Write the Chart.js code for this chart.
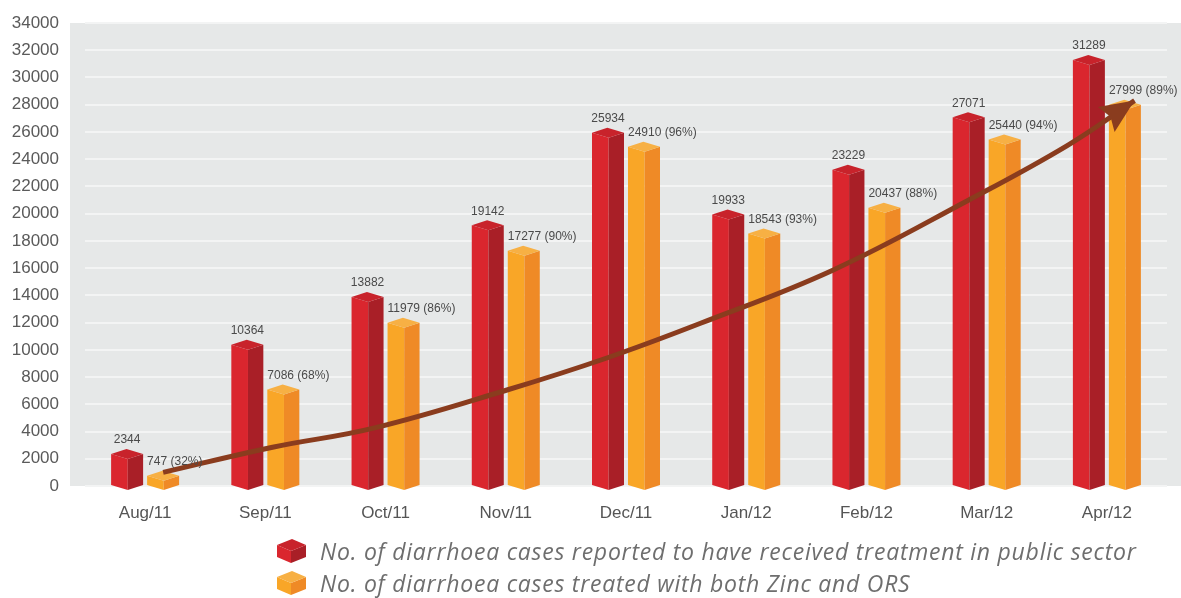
<!DOCTYPE html>
<html>
<head>
<meta charset="utf-8">
<script src="https://cdn.jsdelivr.net/npm/chart.js@4.4.1/dist/chart.umd.min.js"></script>
<style>
  body { margin: 0; background: #fff; }
  #wrap { position: relative; width: 1181px; height: 598px; }
  #legend { position: absolute; left: 277px; top: 535px; font-family: 'Open Sans', sans-serif; font-style: italic; font-size: 23px; letter-spacing: 0.75px; color: #6e6e6e; }
  .row { display: flex; align-items: center; height: 32px; white-space: nowrap; }
  .row svg { margin-right: 14px; }
</style>
</head>
<body>
<div id="wrap">
  <canvas id="c"></canvas>
  <div id="legend"></div>
</div>
<script>
// Diarrhoea cases: treated in public sector vs treated with Zinc + ORS, Aug/11 - Apr/12

const months = ['Aug/11', 'Sep/11', 'Oct/11', 'Nov/11', 'Dec/11', 'Jan/12', 'Feb/12', 'Mar/12', 'Apr/12'];
const reported = [2344, 10364, 13882, 19142, 25934, 19933, 23229, 27071, 31289];
const zincOrs = [747, 7086, 11979, 17277, 24910, 18543, 20437, 25440, 27999];

// hand-drawn trend arrow (x in category index units)
const trendX = [0.15, 1.06, 1.9, 3.01, 3.84, 4.62, 5.72, 6.84, 7.67, 8.23];
const trendY = [1000, 2850, 4250, 7050, 9400, 11950, 15850, 20950, 25000, 28300];

const yMax = 34000;
const yStep = 2000;

const legendLabels = [
    'No. of diarrhoea cases reported to have received treatment in public sector',
    'No. of diarrhoea cases treated with both Zinc and ORS'
];

const redFace = { front: '#da262e', side: '#a91f27', top: '#c8232b' };
const orangeFace = { front: '#f9a627', side: '#ef8a26', top: '#f7b044' };

const plotBg = {
    id: 'plotBg',
    beforeDraw(chart) {
        const { ctx, chartArea } = chart;
        ctx.save();
        ctx.fillStyle = '#e6e8e8';
        ctx.fillRect(70, chartArea.top, chart.width - 70, chartArea.bottom - chartArea.top);
        ctx.restore();
    }
};

// draws each bar as a little box seen from its corner
const bar3d = {
    id: 'bar3d',
    afterDatasetDraw(chart, args) {
        const ds = chart.data.datasets[args.index];
        if (!ds.face) return;
        const ctx = chart.ctx;
        const d = 5, inset = 2;
        ctx.save();
        args.meta.data.forEach(b => {
            const w = b.width - inset * 2, x0 = b.x - w / 2, x1 = b.x + w / 2, xm = x0 + w * 0.52;
            const top = b.y, base = b.base;
            ctx.fillStyle = ds.face.front;
            ctx.beginPath();
            ctx.moveTo(x0, top); ctx.lineTo(xm, top + d); ctx.lineTo(xm, base + d); ctx.lineTo(x0, base);
            ctx.closePath(); ctx.fill();
            ctx.fillStyle = ds.face.side;
            ctx.beginPath();
            ctx.moveTo(xm, top + d); ctx.lineTo(x1, top); ctx.lineTo(x1, base); ctx.lineTo(xm, base + d);
            ctx.closePath(); ctx.fill();
            ctx.fillStyle = ds.face.top;
            ctx.beginPath();
            ctx.moveTo(x0, top); ctx.lineTo(x0 + (x1 - xm), top - d); ctx.lineTo(x1, top); ctx.lineTo(xm, top + d);
            ctx.closePath(); ctx.fill();
        });
        ctx.restore();
    }
};

const arrowHead = {
    id: 'arrowHead',
    afterDatasetDraw(chart, args) {
        const ds = chart.data.datasets[args.index];
        if (ds.type !== 'line') return;
        const pts = args.meta.data;
        const p = pts[pts.length - 1], q = pts[pts.length - 2];
        const ctx = chart.ctx;
        const ang = Math.atan2(p.y - q.y, p.x - q.x);
        const len = 34, half = 15;
        ctx.save();
        ctx.translate(p.x, p.y);
        ctx.rotate(ang);
        ctx.fillStyle = ds.borderColor;
        ctx.beginPath();
        ctx.moveTo(0, 0); ctx.lineTo(-len, -half); ctx.lineTo(-len * 0.85, 0); ctx.lineTo(-len, half);
        ctx.closePath(); ctx.fill();
        ctx.restore();
    }
};

const valueLabels = {
    id: 'valueLabels',
    afterDatasetsDraw(chart) {
        const ctx = chart.ctx;
        ctx.save();
        ctx.font = '12px "Liberation Sans", Arial, sans-serif';
        ctx.fillStyle = '#4a4a4a';
        ctx.textBaseline = 'bottom';
        const red = chart.getDatasetMeta(1).data;
        const org = chart.getDatasetMeta(2).data;
        red.forEach((b, i) => {
            ctx.textAlign = 'center';
            ctx.fillText(String(reported[i]), b.x, b.y - 8);
        });
        org.forEach((b, i) => {
            const pct = Math.round(zincOrs[i] / reported[i] * 100);
            ctx.textAlign = 'left';
            ctx.fillText(zincOrs[i] + ' (' + pct + '%)', b.x - b.width / 2 + 2, b.y - 8);
        });
        ctx.restore();
    }
};

const chart = new Chart(document.getElementById('c'), {
    type: 'bar',
    data: {
        labels: months,
        datasets: [
            { type: 'line', label: 'trend', data: trendX.map((x, i) => ({ x, y: trendY[i] })), xAxisID: 'xt',
              borderColor: '#8a3c1e', borderWidth: 5, pointRadius: 0, tension: 0.4, fill: false, order: 0 },
            { label: legendLabels[0], data: reported, backgroundColor: 'rgba(0,0,0,0)', face: redFace,
              barThickness: 36, order: 1 },
            { label: legendLabels[1], data: zincOrs, backgroundColor: 'rgba(0,0,0,0)', face: orangeFace,
              barThickness: 36, order: 1 }
        ]
    },
    options: {
        responsive: true,
        maintainAspectRatio: false,
        animation: false,
        layout: { padding: { top: 23, right: 14, bottom: 72, left: 0 } },
        plugins: { legend: { display: false }, tooltip: { enabled: false } },
        scales: {
            x: {
                grid: { display: false, drawTicks: false },
                border: { display: false },
                ticks: { color: '#555', font: { size: 17, family: '"Liberation Sans", Arial, sans-serif' }, padding: 17 },
                afterFit(scale) { scale.height = 40; }
            },
            xt: { type: 'linear', display: false, offset: false, min: -0.5, max: 8.5 },
            y: {
                min: 0, max: yMax,
                grid: { color: '#f3f4f4', lineWidth: 2, drawTicks: false },
                border: { display: false },
                ticks: { stepSize: yStep, color: '#5a5a5a', padding: 26, callback: v => String(v),
                         font: { size: 17, family: '"Liberation Sans", Arial, sans-serif' } },
                afterFit(scale) { scale.width = 85; scale.paddingTop = 0; scale.paddingBottom = 0; }
            }
        }
    },
    plugins: [plotBg, bar3d, arrowHead, valueLabels]
});

// html legend with little 3D cube markers
const legend = document.getElementById('legend');
[redFace, orangeFace].forEach((f, i) => {
    const row = document.createElement('div');
    row.className = 'row';
    row.innerHTML = `<svg width="29" height="24" viewBox="0 0 29 24">
        <polygon points="0,6 14,12 14,24 0,18" fill="${f.front}"/>
        <polygon points="14,12 29,6 29,18 14,24" fill="${f.side}"/>
        <polygon points="0,6 15,0 29,6 14,12" fill="${f.top}"/>
      </svg><span>${legendLabels[i]}</span>`;
    legend.appendChild(row);
});
</script>
</body>
</html>
